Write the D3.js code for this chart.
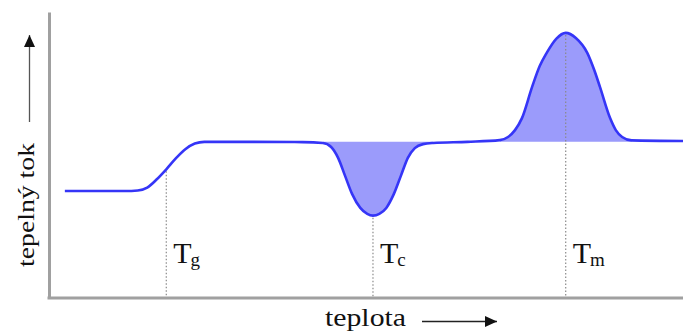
<!DOCTYPE html>
<html>
<head>
<meta charset="utf-8">
<script src="https://cdn.jsdelivr.net/npm/d3@7"></script>
<style>
  html, body { margin: 0; padding: 0; background: #fff; }
  svg { display: block; }
</style>
</head>
<body>
<svg id="chart" width="683" height="332"></svg>
<script>
// ---- data (temperature in arbitrary units 0..100, heat flow in arbitrary units 0..100)
const temperature = [2.5, 12, 14, 15.5, 17, 18.5, 20, 21.5, 23, 24.5, 30, 40,
  43.2, 44.5, 45.6, 46.7, 47.8, 49.1, 50.2, 51.1, 52.1, 53.2, 54.4, 55.5, 56.6, 57.7, 59.0, 60.6,
  66, 71.1, 72.4, 73.5, 74.6, 76.2, 77.4, 78.5, 80.0, 81.5, 83.1, 84.9, 86.0, 86.9, 88.5, 89.4, 90.4, 91.9, 100];
const heatFlow = [37.4, 37.4, 37.6, 38.6, 41.5, 45, 48.8, 52, 54, 54.6, 54.6, 54.5,
  54.2, 52.8, 49.0, 42.7, 36.4, 31.5, 29.4, 28.8, 29.4, 31.5, 36.4, 42.7, 49.0, 52.4, 53.8, 54.2,
  54.6, 55.2, 56.3, 58.7, 62.9, 73.8, 81.1, 85.7, 90.6, 92.7, 90.9, 85.7, 79.7, 73.8, 62.9, 58.7, 56.3, 55.1, 54.9];
const baselineFlow = 54.6;
const peakRanges = [[43.2, 60.6], [71.1, 91.9]];
const transitionSubs = ["g", "c", "m"];
const transitionTemps = [18.5, 51.1, 81.5];
const xLabel = "teplota";
const yLabel = "tepelný tok";

const points = temperature.map((t, i) => ({ t, h: heatFlow[i] }));

const svg = d3.select("#chart");
const x = d3.scaleLinear().domain([0, 100]).range([49, 683]);
const y = d3.scaleLinear().domain([0, 100]).range([298, 12]);

const curve = d3.curveMonotoneX;
const serif = "Liberation Serif, Times New Roman, serif";

// filled areas
peakRanges.forEach(([a, b]) => {
  const seg = points.filter(p => p.t >= a - 1e-9 && p.t <= b + 1e-9);
  svg.append("path")
    .datum(seg)
    .attr("fill", "#9b9bfb")
    .attr("stroke", "none")
    .attr("d", d3.area().curve(curve).x(d => x(d.t)).y0(y(baselineFlow)).y1(d => y(d.h)));
});

// dotted transition markers
const flowAt = t => {
  const i = d3.bisector(d => d.t).center(points, t);
  return points[i].h;
};
transitionTemps.forEach((t, i) => {
  svg.append("line")
    .attr("x1", x(t)).attr("x2", x(t))
    .attr("y1", y(flowAt(t)) + 2).attr("y2", y(0))
    .attr("stroke", "#8a8a8a")
    .attr("stroke-width", 1.2)
    .attr("stroke-dasharray", "1.5,2");
  const txt = svg.append("text")
    .attr("x", x(t) + 7)
    .attr("y", 263)
    .attr("font-family", serif)
    .attr("font-size", 30)
    .attr("fill", "#111");
  txt.append("tspan").text("T");
  txt.append("tspan").attr("font-size", 19).attr("dy", 3).attr("dx", -1).text(transitionSubs[i]);
});

// curve
svg.append("path")
  .datum(points)
  .attr("fill", "none")
  .attr("stroke", "#3535f7")
  .attr("stroke-width", 2.6)
  .attr("stroke-linejoin", "round")
  .attr("d", d3.line().curve(curve).x(d => x(d.t)).y(d => y(d.h)));

// axes (domain lines only)
const gx = svg.append("g").attr("transform", `translate(0,${y(0)})`)
  .call(d3.axisBottom(x).tickValues([]).tickSizeOuter(0));
const gy = svg.append("g").attr("transform", `translate(${x(0)},0)`)
  .call(d3.axisLeft(y).tickValues([]).tickSizeOuter(0));
[gx, gy].forEach(g => g.select(".domain").attr("stroke", "#a0a0a0").attr("stroke-width", 3));
gx.select(".domain").attr("d", `M${x(0) - 1.5},0H683`);

// arrow marker
svg.append("defs").append("marker")
  .attr("id", "arr").attr("viewBox", "0 0 10 10")
  .attr("refX", 10).attr("refY", 5)
  .attr("markerWidth", 12).attr("markerHeight", 11)
  .attr("markerUnits", "userSpaceOnUse")
  .attr("orient", "auto")
  .attr("preserveAspectRatio", "none")
  .append("path").attr("d", "M0,0L10,5L0,10Z").attr("fill", "#111");

// x label + arrow
svg.append("text")
  .attr("x", 325).attr("y", 326)
  .attr("font-family", serif)
  .attr("font-size", 26)
  .attr("textLength", 81).attr("lengthAdjust", "spacingAndGlyphs")
  .attr("fill", "#111")
  .text(xLabel);
svg.append("line")
  .attr("x1", 422).attr("x2", 497).attr("y1", 321.5).attr("y2", 321.5)
  .attr("stroke", "#222").attr("stroke-width", 1.3)
  .attr("marker-end", "url(#arr)");

// y label + arrow
svg.append("text")
  .attr("transform", "translate(34,267) rotate(-90)")
  .attr("font-family", serif)
  .attr("font-size", 24)
  .attr("textLength", 124).attr("lengthAdjust", "spacingAndGlyphs")
  .attr("fill", "#111")
  .text(yLabel);
svg.append("line")
  .attr("x1", 29.5).attr("x2", 29.5).attr("y1", 122).attr("y2", 35)
  .attr("stroke", "#555").attr("stroke-width", 1.3)
  .attr("marker-end", "url(#arr)");
</script>
</body>
</html>
